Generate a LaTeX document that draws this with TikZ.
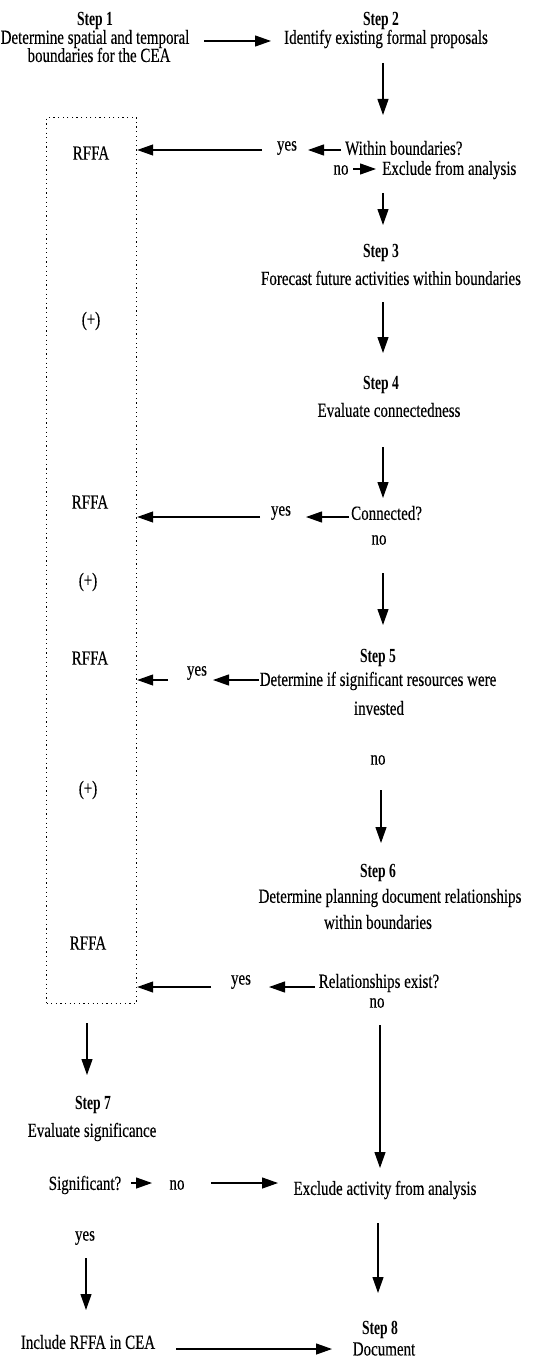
\documentclass[tikz,border=0pt]{standalone}
\usepackage{fontspec}
\setmainfont[FakeStretch=0.75,FakeBold=0.3]{Liberation Serif}
\newfontfamily\stepfont[FakeStretch=0.68]{Liberation Serif}
\usetikzlibrary{arrows.meta}
\begin{document}
\begin{tikzpicture}[x=1pt,y=-1pt,
  lbl/.style={inner sep=0pt, align=center, font=\fontsize{20}{18}\selectfont},
  stephead/.style={inner sep=0pt, font=\stepfont\bfseries\fontsize{20}{18}\selectfont},
  arr/.style={line width=1.2pt, -{Triangle[length=16pt,width=11pt]}},
  dotbox/.style={draw, line width=1.2pt, dash pattern=on 1.2pt off 3.4pt}
]
\path[use as bounding box] (0,0) rectangle (546,1359);

% dotted RFFA column
\node[dotbox, anchor=north west, minimum width=90pt, minimum height=886pt, inner sep=0pt] (box) at (46,117) {};

% texts
\node[stephead] (h1) at (95,21) {Step 1};
\node[lbl] (t1a) at (95,39) {Determine spatial and temporal};
\node[lbl] (t1b) at (99,55) {boundaries for the CEA};
\node[stephead] (h2) at (381,21) {Step 2};
\node[lbl] (t2) at (386,39) {Identify existing formal proposals};
\node[lbl, anchor=west] (q1) at (345,148) {Within boundaries?};
\node[lbl] (y1) at (287,148) {yes};
\node[lbl] (n1) at (341,170) {no};
\node[lbl, anchor=west] (x1) at (382,170) {Exclude from analysis};
\node[lbl] (r1) at (91,153) {RFFA};
\node[stephead] (h3) at (381,253) {Step 3};
\node[lbl] (t3) at (391,278) {Forecast future activities within boundaries};
\node[lbl] (p1) at (91,321) {(+)};
\node[stephead] (h4) at (381,385) {Step 4};
\node[lbl] (t4) at (389,410) {Evaluate connectedness};
\node[lbl] (r2) at (90,502) {RFFA};
\node[lbl] (y2) at (281,513) {yes};
\node[lbl, anchor=west] (q2) at (351,513) {Connected?};
\node[lbl] (n2) at (379,540) {no};
\node[lbl] (p2) at (88,582) {(+)};
\node[lbl] (r3) at (90,658) {RFFA};
\node[stephead] (h5) at (378,658) {Step 5};
\node[lbl] (t5a) at (378,681) {Determine if significant resources were};
\node[lbl] (t5b) at (379,708) {invested};
\node[lbl] (y3) at (197,673) {yes};
\node[lbl] (n3) at (378,760) {no};
\node[lbl] (p3) at (88,790) {(+)};
\node[stephead] (h6) at (378,873) {Step 6};
\node[lbl] (t6a) at (390,898) {Determine planning document relationships};
\node[lbl] (t6b) at (378,922) {within boundaries};
\node[lbl] (r4) at (88,943) {RFFA};
\node[lbl] (y4) at (241,982) {yes};
\node[lbl] (q4) at (379,983) {Relationships exist?};
\node[lbl] (n4) at (377,1003) {no};
\node[stephead] (h7) at (93,1105) {Step 7};
\node[lbl] (t7) at (92,1132) {Evaluate significance};
\node[lbl] (q7) at (85,1185) {Significant?};
\node[lbl] (n7) at (177,1185) {no};
\node[lbl] (xa) at (385,1190) {Exclude activity from analysis};
\node[lbl] (y7) at (85,1238) {yes};
\node[lbl] (inc) at (88,1342) {Include RFFA in CEA};
\node[stephead] (h8) at (380,1330) {Step 8};
\node[lbl] (doc) at (384,1349) {Document};

% connector end points
\coordinate (a1s) at (204,41);  \coordinate (a1e) at (271,41);
\coordinate (a2s) at (383,63);  \coordinate (a2e) at (383,115);
\coordinate (a3s) at (262,150);
\coordinate (a4s) at (341,150); \coordinate (a4e) at (308,150);
\coordinate (a5s) at (353,169); \coordinate (a5e) at (376,169);
\coordinate (a6s) at (383,193); \coordinate (a6e) at (383,225);
\coordinate (a7s) at (383,302); \coordinate (a7e) at (383,353);
\coordinate (a8s) at (383,447); \coordinate (a8e) at (383,498);
\coordinate (a9s) at (260,517);
\coordinate (a10s) at (349,517); \coordinate (a10e) at (306,517);
\coordinate (a11s) at (383,573); \coordinate (a11e) at (383,625);
\coordinate (a12s) at (168,680);
\coordinate (a13s) at (259,680); \coordinate (a13e) at (213,680);
\coordinate (a14s) at (381,790); \coordinate (a14e) at (381,843);
\coordinate (a15s) at (211,987);
\coordinate (a16s) at (315,987); \coordinate (a16e) at (269,987);
\coordinate (a17s) at (380,1025); \coordinate (a17e) at (380,1168);
\coordinate (a18s) at (87,1023); \coordinate (a18e) at (87,1075);
\coordinate (a19s) at (131,1183); \coordinate (a19e) at (152,1183);
\coordinate (a20s) at (211,1183); \coordinate (a20e) at (278,1183);
\coordinate (a21s) at (378,1223); \coordinate (a21e) at (378,1293);
\coordinate (a22s) at (86,1258); \coordinate (a22e) at (86,1310);
\coordinate (a23s) at (176,1349); \coordinate (a23e) at (332,1349);

% connectors
\draw[arr] (a1s) -- (a1e);
\draw[arr] (a2s) -- (a2e);
\draw[arr] (a3s) -- (box.east |- a3s);
\draw[arr] (a4s) -- (a4e);
\draw[arr] (a5s) -- (a5e);
\draw[arr] (a6s) -- (a6e);
\draw[arr] (a7s) -- (a7e);
\draw[arr] (a8s) -- (a8e);
\draw[arr] (a9s) -- (box.east |- a9s);
\draw[arr] (a10s) -- (a10e);
\draw[arr] (a11s) -- (a11e);
\draw[arr] (a12s) -- (box.east |- a12s);
\draw[arr] (a13s) -- (a13e);
\draw[arr] (a14s) -- (a14e);
\draw[arr] (a15s) -- (box.east |- a15s);
\draw[arr] (a16s) -- (a16e);
\draw[arr] (a17s) -- (a17e);
\draw[arr] (a18s) -- (a18e);
\draw[arr] (a19s) -- (a19e);
\draw[arr] (a20s) -- (a20e);
\draw[arr] (a21s) -- (a21e);
\draw[arr] (a22s) -- (a22e);
\draw[arr] (a23s) -- (a23e);
\end{tikzpicture}
\end{document}
